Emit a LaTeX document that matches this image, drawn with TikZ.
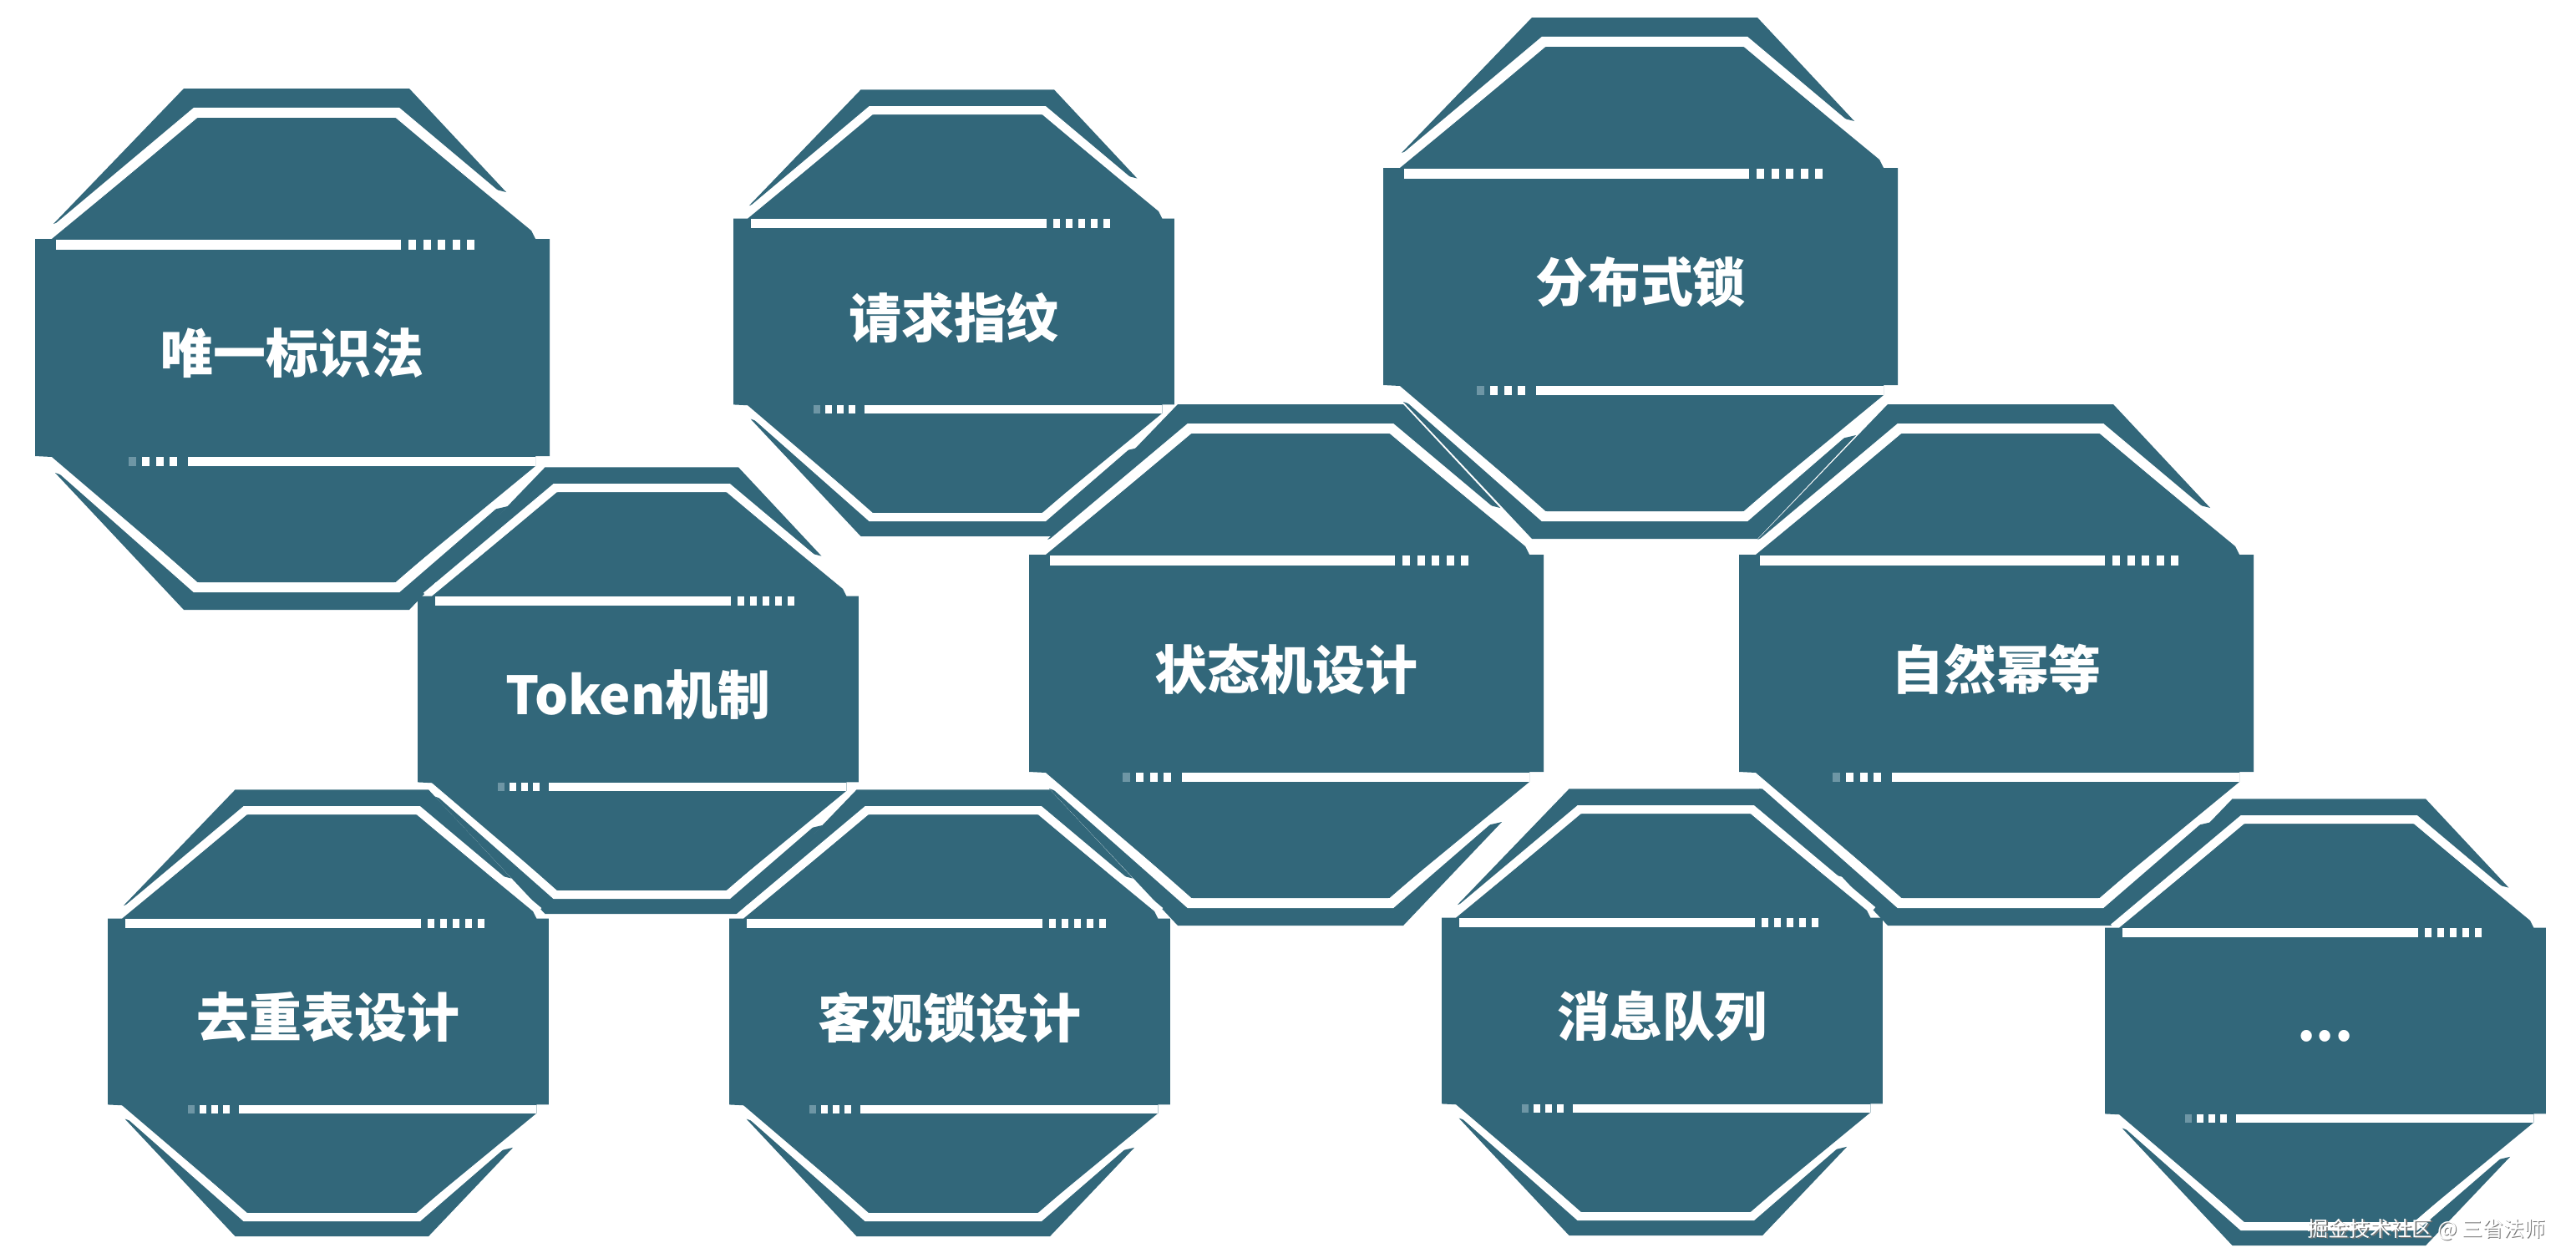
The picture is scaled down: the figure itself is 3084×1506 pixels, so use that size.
\documentclass[tikz,border=0pt]{standalone}
\usepackage{fontspec}
\newfontfamily\cjk{Noto Sans CJK SC}
\definecolor{tealc}{RGB}{50,103,122}
\definecolor{fadedot}{RGB}{110,150,165}
\tikzset{
  lbl/.style={text=white, font=\cjk\bfseries\fontsize{17.9pt}{20pt}\selectfont, inner sep=0pt},
  wmark/.style={font=\cjk\fontsize{7.1pt}{8pt}\selectfont, inner sep=0pt},
  capline/.style={white, line join=miter},
}
% #1 cx, #2 cy, #3 scale, #4 name, #5 text
\newcommand\octshape[5]{%
  \begin{scope}[shift={(#1,#2)}, scale=#3]
    \fill[tealc] (-286,-148) -- (-130,-310) -- (140,-310) -- (256,-186) -- (0,-250) -- cycle;
    \fill[tealc] (-284,150) -- (-130,314) -- (140,314) -- (258,190) -- (0,250) -- cycle;
    \draw[capline, line width=#3*0.12cm] (-296,-130) -- (-116,-281) -- (126,-281) -- (294,-140);
    \draw[capline, line width=#3*0.12cm] (-296,128) -- (-116,287) -- (126,287) -- (296,140);
    \fill[tealc] (-308,-130) -- (-288,-130) -- (-112,-275) -- (122,-275) -- (286,-140)
      -- (291,-130) -- (308,-130) -- (308,130) -- (291,130) -- (291,142) -- (122,281)
      -- (-112,281) -- (-288,131) -- (-308,130) -- cycle;
    \fill[white] (-283,-129) rectangle (130,-117);
    \foreach \i in {0,...,4} { \fill[white] ({139+17.5*\i},-129) rectangle ++(9,12); }
    \fill[white] (-125,131) rectangle (291,142);
    \fill[fadedot] (-196,131) rectangle ++(9,11);
    \foreach \i in {1,2,3} { \fill[white] ({-196+16.3*\i},131) rectangle ++(9,11); }
  \end{scope}
  \node[lbl] (#4) at (#1,#2+7) {#5};
}
\begin{document}
\begin{tikzpicture}[x=0.01cm, y=-0.01cm]
  \fill[white] (0,0) rectangle (3084,1506);
  \useasboundingbox (0,0) rectangle (3084,1506);
  \octshape{350}{416}{1}{n1}{唯一标识法}
  \octshape{1142}{373}{0.857}{n2}{请求指纹}
  \octshape{1964}{331}{1}{n3}{分布式锁}
  \octshape{764}{825}{0.857}{n4}{Token机制}
  \octshape{1540}{794}{1}{n5}{状态机设计}
  \octshape{2390}{794}{1}{n6}{自然幂等}
  \octshape{393}{1211}{0.857}{n7}{去重表设计}
  \octshape{1137}{1211}{0.857}{n8}{客观锁设计}
  \octshape{1990}{1210}{0.857}{n9}{消息队列}
  \octshape{2784}{1222}{0.857}{n10}{}
  \node[lbl] (dots) at (2784,1240) {...};
  \node[wmark, text=black!55] (wmshadow) at (2906.5,1473.5) {掘金技术社区 @ 三省法师};
  \node[wmark, text=white] (wm) at (2905,1472) {掘金技术社区 @ 三省法师};
\end{tikzpicture}
\end{document}
